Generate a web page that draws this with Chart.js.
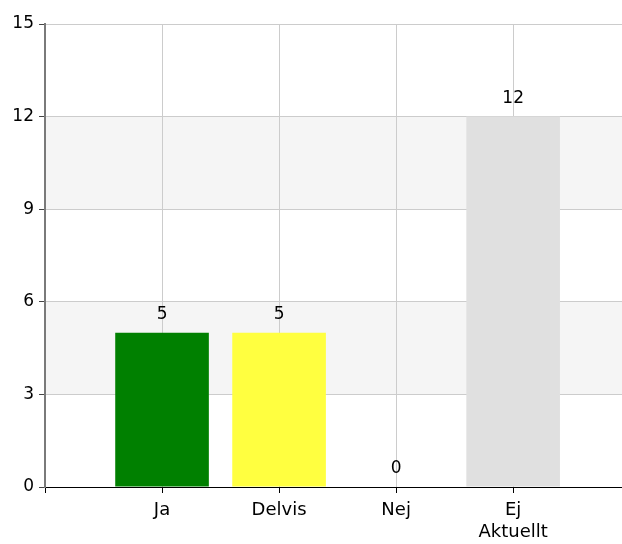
<!DOCTYPE html>
<html>
<head>
<meta charset="utf-8">
<script src="https://cdn.jsdelivr.net/npm/chart.js@4"></script>
<style>
    html, body { margin: 0; padding: 0; background: #fff; }
    #wrap { width: 622px; height: 544px; }
</style>
</head>
<body>
<div id="wrap"><canvas id="chart" width="622" height="544"></canvas></div>
<script>
// Chart data
const categories = ['Ja', 'Delvis', 'Nej', ['Ej', 'Aktuellt']];
const values = [5, 5, 0, 12];
const barColors = ['#008000', '#ffff40', '#ffffff', '#e0e0e0'];
const yTicks = [0, 3, 6, 9, 12, 15];

const FONT = '"DejaVu Sans", Verdana, sans-serif';

// Light grey bands between every other pair of y ticks
const bandPlugin = {
    id: 'bands',
    beforeDraw(chart) {
        const { ctx, chartArea, scales } = chart;
        const y = scales.y;
        ctx.save();
        ctx.fillStyle = '#f5f5f5';
        for (let i = 1; i < yTicks.length - 1; i += 2) {
            const top = y.getPixelForValue(yTicks[i + 1]);
            const bottom = y.getPixelForValue(yTicks[i]);
            ctx.fillRect(chartArea.left, top, chartArea.right - chartArea.left, bottom - top);
        }
        ctx.restore();
    }
};

// Value labels above each bar
const valueLabels = {
    id: 'valueLabels',
    afterDatasetsDraw(chart) {
        const { ctx } = chart;
        const meta = chart.getDatasetMeta(0);
        ctx.save();
        ctx.font = '17px ' + FONT;
        ctx.fillStyle = '#000';
        ctx.textAlign = 'center';
        ctx.textBaseline = 'alphabetic';
        meta.data.forEach((bar, i) => {
            ctx.fillText(String(values[i]), bar.x, bar.y - 14);
        });
        ctx.restore();
    }
};

new Chart(document.getElementById('chart'), {
    type: 'bar',
    data: {
        datasets: [{
            data: values.map((v, i) => ({ x: i + 1, y: v })),
            backgroundColor: barColors,
            borderWidth: 0,
            barPercentage: 0.8,
            categoryPercentage: 1.0
        }]
    },
    options: {
        responsive: false,
        animation: false,
        events: [],
        layout: { padding: { top: 24, right: 0, bottom: 0, left: 0 } },
        plugins: {
            legend: { display: false },
            tooltip: { enabled: false }
        },
        scales: {
            x: {
                type: 'linear',
                offset: false,
                min: 0,
                max: 4.93,
                afterBuildTicks: (scale) => {
                    scale.ticks = [0, 1, 2, 3, 4].map(v => ({ value: v }));
                },
                afterFit: (scale) => { scale.height = 57; },
                grid: {
                    offset: false,
                    color: '#cccccc',
                    tickColor: '#000',
                    tickLength: 6
                },
                border: { color: '#000', width: 1 },
                ticks: {
                    autoSkip: false,
                    maxRotation: 0,
                    padding: 7,
                    color: '#000',
                    font: { family: FONT, size: 18 },
                    callback: (v) => (v >= 1 && v <= categories.length) ? categories[v - 1] : ''
                }
            },
            y: {
                min: 0,
                max: 15,
                afterBuildTicks: (scale) => {
                    scale.ticks = yTicks.map(v => ({ value: v }));
                },
                afterFit: (scale) => { scale.width = 45; },
                grid: {
                    color: '#cccccc',
                    tickColor: '#444',
                    tickLength: 6
                },
                border: { color: '#7a7a7a', width: 2 },
                ticks: {
                    padding: 5,
                    color: '#000',
                    font: { family: FONT, size: 17 }
                }
            }
        }
    },
    plugins: [bandPlugin, valueLabels]
});
</script>
</body>
</html>
